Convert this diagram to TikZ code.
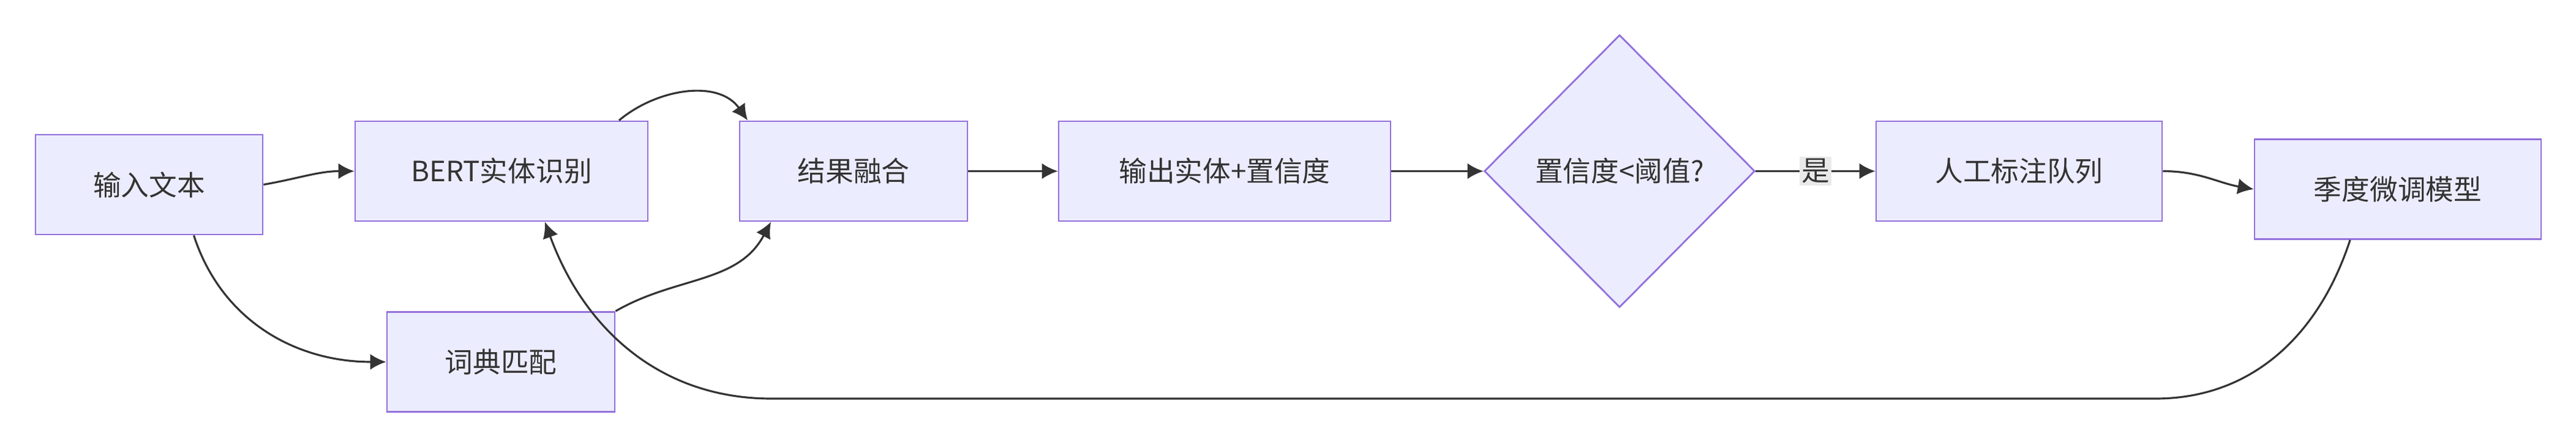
\documentclass[tikz,border=0pt]{standalone}
\usepackage{fontspec}
\setmainfont{Noto Sans CJK SC}
\usetikzlibrary{arrows.meta,shapes.geometric}
\definecolor{boxfill}{HTML}{ECECFF}
\definecolor{boxline}{HTML}{9370DB}
\definecolor{edgeline}{HTML}{333333}
\tikzset{%
  >={Latex[width=2.6mm,length=2.6mm]},
  % node styles
       base/.style = {rectangle, draw=boxline, fill=boxfill, line width=0.8pt,
                      minimum height=1.63cm, text=edgeline, inner sep=0pt,
                      font=\fontsize{13}{15}\selectfont},
   decision/.style = {diamond, draw=boxline, fill=boxfill, line width=0.8pt,
                      minimum width=4.42cm, minimum height=4.45cm, aspect=1,
                      inner sep=0pt, text=edgeline,
                      font=\fontsize{13}{15}\selectfont},
       link/.style = {draw=edgeline, line width=0.9pt, ->},
}

\begin{document}
\begin{tikzpicture}
\useasboundingbox (0,0) rectangle (42.07,7.29);

\node (in)    [base, minimum width=3.71cm] at (2.435,4.275) {输入文本};
\node (bert)  [base, minimum width=4.78cm] at (8.19,4.495)  {BERT实体识别};
\node (dict)  [base, minimum width=3.72cm] at (8.18,1.38)   {词典匹配};
\node (fuse)  [base, minimum width=3.72cm] at (13.94,4.495) {结果融合};
\node (out)   [base, minimum width=5.42cm] at (20.0,4.495)  {输出实体+置信度};
\node (dec)   [decision]                   at (26.45,4.495) {置信度<阈值?};
\node (queue) [base, minimum width=4.67cm] at (32.975,4.495) {人工标注队列};
\node (tune)  [base, minimum width=4.68cm] at (39.16,4.2)   {季度微调模型};

\coordinate (loopR) at (35.2,0.78);
\coordinate (loopL) at (12.6,0.78);

\draw[link] (in.east) to[out=10,in=180] (bert.west);
\draw[link] ([xshift=7.3mm]in.south) to[out=-72,in=180] (dict.west);
\draw[link] ([xshift=19.2mm]bert.north) to[out=40,in=125] ([xshift=-17.3mm]fuse.north);
\draw[link] (dict.north east) to[out=30,in=-118] ([xshift=-13.5mm]fuse.south);
\draw[link] (fuse) -- (out);
\draw[link] (out.east) -- (dec.west);
\draw[link] (dec.east) -- node[fill=gray!17, text=edgeline, inner sep=1pt,
    font=\fontsize{13}{15}\selectfont] {是} (queue.west);
\draw[link] (queue.east) to[out=0,in=170] (tune.west);
\draw[link] ([xshift=-7.8mm]tune.south) to[out=-108,in=0] (loopR) -- (loopL)
    to[out=180,in=-70] ([xshift=7.1mm]bert.south);
\end{tikzpicture}
\end{document}
